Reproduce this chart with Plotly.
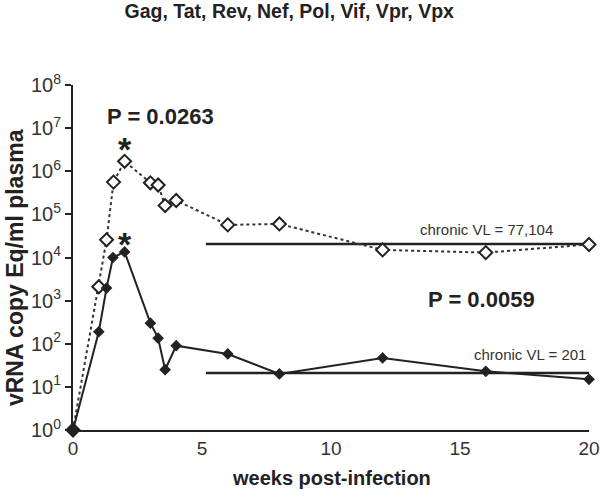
import plotly.graph_objects as go

weeks_a = [0, 1, 1.3, 1.57, 2, 3, 3.3, 3.57, 4, 6, 8, 12, 16, 20]
vl_a = [1, 2100, 25700, 560000, 1700000, 540000, 480000, 160000, 210000, 57000, 60000, 15000, 13000, 20000]

weeks_b = [0, 1, 1.3, 1.55, 2, 3, 3.3, 3.57, 4, 6, 8, 12, 16, 20]
vl_b = [1, 190, 1950, 10000, 13500, 300, 135, 25, 90, 58, 20, 47, 23, 15]

chronic_x = [5.15, 20]
chronic_a = 20500
chronic_b = 21
chronic_a_label = "chronic VL = 77,104"
chronic_b_label = "chronic VL = 201"

ytick_vals = [10**i for i in range(9)]
ytick_text = [f"10<sup>{i}</sup>" for i in range(9)]
xtick_vals = [0, 5, 10, 15, 20]

ink = "#222222"
font_family = "Liberation Sans, Arial, sans-serif"

fig = go.Figure()
fig.add_trace(go.Scatter(x=chronic_x, y=[chronic_a, chronic_a], mode="lines",
                         line=dict(color=ink, width=2.5), showlegend=False, cliponaxis=False))
fig.add_trace(go.Scatter(x=chronic_x, y=[chronic_b, chronic_b], mode="lines",
                         line=dict(color=ink, width=2.5), showlegend=False, cliponaxis=False))
fig.add_trace(go.Scatter(x=weeks_a, y=vl_a, mode="lines+markers",
                         line=dict(color="#333333", width=2, dash="dot"),
                         marker=dict(symbol="diamond", size=10, color="white",
                                     line=dict(color="#222222", width=2)),
                         showlegend=False, cliponaxis=False))
fig.add_trace(go.Scatter(x=weeks_b, y=vl_b, mode="lines+markers",
                         line=dict(color=ink, width=2),
                         marker=dict(symbol="diamond", size=9, color=ink),
                         showlegend=False, cliponaxis=False))

fig.update_layout(
    width=600, height=490,
    margin=dict(l=73, r=11, t=85, b=60, autoexpand=False),
    paper_bgcolor="white", plot_bgcolor="white",
    font=dict(family=font_family, color=ink),
    title=dict(text="<b>Gag, Tat, Rev, Nef, Pol, Vif, Vpr, Vpx</b>", x=0.482, xanchor="center",
               y=0.977, yanchor="middle", font=dict(size=19.5, color=ink)),
    xaxis=dict(range=[0, 20], tickvals=xtick_vals, showline=True, linecolor=ink, linewidth=2,
               ticks="", showgrid=False, zeroline=False, tickfont=dict(size=19, color="#333333"),
               automargin=False, ticklabeloverflow="allow"),
    yaxis=dict(type="log", range=[0, 8], tickvals=ytick_vals, ticktext=ytick_text,
               showline=True, linecolor=ink, linewidth=2, ticks="outside", ticklen=6,
               tickcolor=ink, tickwidth=2, showgrid=False, zeroline=False,
               tickfont=dict(size=20, color="#333333"), automargin=False),
)

fig.add_annotation(x=-0.112, y=0.47, xref="paper", yref="paper", text="<b>vRNA copy Eq/ml plasma</b>",
                   textangle=-90, showarrow=False, xanchor="center", yanchor="middle",
                   font=dict(size=23, color=ink))
fig.add_annotation(x=0.501, y=-0.139, xref="paper", yref="paper", text="<b>weeks post-infection</b>",
                   showarrow=False, xanchor="center", yanchor="middle",
                   font=dict(size=20, color=ink))

fig.add_annotation(x=1.24, y=7.28, xref="x", yref="y", text="<b>P = 0.0263</b>", showarrow=False,
                   xanchor="left", yanchor="middle", font=dict(size=22, color=ink))
fig.add_annotation(x=2.0, y=6.52, xref="x", yref="y", text="<b>*</b>", showarrow=False,
                   yanchor="middle", font=dict(size=34, color=ink))
fig.add_annotation(x=2.0, y=4.32, xref="x", yref="y", text="<b>*</b>", showarrow=False,
                   yanchor="middle", font=dict(size=34, color=ink))
fig.add_annotation(x=13.7, y=3.02, xref="x", yref="y", text="<b>P = 0.0059</b>", showarrow=False,
                   xanchor="left", yanchor="middle", font=dict(size=22, color=ink))
fig.add_annotation(x=18.7, y=4.66, xref="x", yref="y", text=chronic_a_label, showarrow=False,
                   xanchor="right", yanchor="middle", font=dict(size=15, color="#333333"))
fig.add_annotation(x=19.96, y=1.76, xref="x", yref="y", text=chronic_b_label, showarrow=False,
                   xanchor="right", yanchor="middle", font=dict(size=15, color="#333333"))

fig.write_html("out.html", config={"displayModeBar": False},
               post_script="document.body.style.margin='0';document.body.style.overflow='hidden';")
